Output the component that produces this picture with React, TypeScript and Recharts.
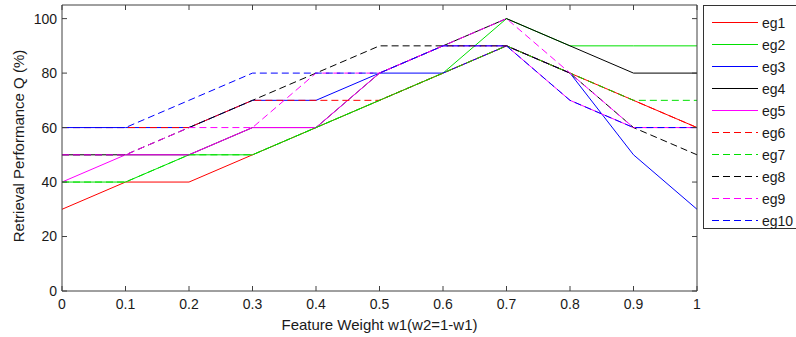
import React from 'react';
import { LineChart, Line, XAxis, YAxis } from 'recharts';

const weights = [0, 0.1, 0.2, 0.3, 0.4, 0.5, 0.6, 0.7, 0.8, 0.9, 1];
const xTickLabels = ['0', '0.1', '0.2', '0.3', '0.4', '0.5', '0.6', '0.7', '0.8', '0.9', '1'];
const yTicks = [0, 20, 40, 60, 80, 100];

const eg1 = [30, 40, 40, 50, 60, 70, 80, 90, 80, 70, 60];
const eg2 = [40, 40, 50, 50, 60, 70, 80, 100, 90, 90, 90];
const eg3 = [60, 60, 60, 70, 70, 80, 80, 90, 80, 50, 30];
const eg4 = [50, 50, 50, 60, 60, 80, 90, 100, 90, 80, 80];
const eg5 = [40, 50, 50, 60, 60, 80, 90, 90, 70, 60, 60];
const eg6 = [60, 60, 60, 70, 70, 70, 80, 90, 80, 70, 60];
const eg7 = [40, 40, 50, 50, 60, 70, 80, 90, 80, 70, 70];
const eg8 = [50, 50, 60, 70, 80, 90, 90, 90, 80, 60, 50];
const eg9 = [50, 50, 60, 60, 80, 80, 90, 100, 80, 60, 60];
const eg10 = [60, 60, 70, 80, 80, 80, 90, 90, 70, 60, 60];

const seriesNames = ['eg1', 'eg2', 'eg3', 'eg4', 'eg5', 'eg6', 'eg7', 'eg8', 'eg9', 'eg10'];
const seriesValues = [eg1, eg2, eg3, eg4, eg5, eg6, eg7, eg8, eg9, eg10];
const seriesColors = ['#ff0000', '#00e000', '#0000ff', '#000000', '#ff00ff', '#ff0000', '#00e000', '#000000', '#ff00ff', '#0000ff'];
const seriesDashed = [false, false, false, false, false, true, true, true, true, true];

const xLabel = 'Feature Weight w1(w2=1-w1)';
const yLabel = 'Retrieval Performance Q (%)';

const data = weights.map((w, i) => {
  const row: Record<string, number> = { w };
  seriesNames.forEach((n, k) => {
    row[n] = seriesValues[k][i];
  });
  return row;
});

const FONT = '"Liberation Sans", Arial, sans-serif';
const AXIS = '#404040';
const TEXT = '#1a1a1a';
const DASH = '7 4';

const EmptyTick = () => <g />;

export default function App() {
  return (
    <div style={{ position: 'absolute', left: 0, top: 0, width: 796, height: 337, background: '#fff' }}>
      <LineChart
        width={796}
        height={337}
        data={data}
        margin={{ top: 4, right: 98, bottom: 0, left: 0 }}
        style={{ fontFamily: FONT }}
      >
        <XAxis
          xAxisId="bottom"
          dataKey="w"
          type="number"
          domain={[0, 1]}
          ticks={weights}
          tickFormatter={(v: number) => xTickLabels[weights.indexOf(v)] ?? String(v)}
          height={46}
          tickSize={-5}
          tickMargin={13}
          axisLine={{ stroke: AXIS }}
          tickLine={{ stroke: AXIS }}
          tick={{ fill: TEXT, fontSize: 14, fontFamily: FONT }}
          interval={0}
          label={{
            content: (p: any) => {
              const vb = p.viewBox;
              const cx = vb.x + vb.width / 2;
              return (
                <text x={cx} y={330} textAnchor="middle" fill={TEXT} fontSize={15} fontFamily={FONT}>
                  {xLabel}
                </text>
              );
            },
          }}
        />
        <XAxis
          xAxisId="top"
          dataKey="w"
          type="number"
          orientation="top"
          domain={[0, 1]}
          ticks={weights}
          height={1}
          tickSize={-5}
          tick={EmptyTick}
          axisLine={{ stroke: AXIS }}
          tickLine={{ stroke: AXIS }}
          interval={0}
        />
        <YAxis
          yAxisId="left"
          type="number"
          domain={[0, 105]}
          ticks={yTicks}
          width={62}
          tickSize={-5}
          tickMargin={10}
          axisLine={{ stroke: AXIS }}
          tickLine={{ stroke: AXIS }}
          tick={{ fill: TEXT, fontSize: 14, fontFamily: FONT }}
          interval={0}
          allowDataOverflow
          label={{
            content: (p: any) => {
              const vb = p.viewBox;
              const cx = 18;
              const cy = vb.y + vb.height / 2 - 2;
              return (
                <text
                  x={cx}
                  y={cy}
                  transform={`rotate(-90 ${cx} ${cy})`}
                  textAnchor="middle"
                  dominantBaseline="central"
                  fill={TEXT}
                  fontSize={15}
                  fontFamily={FONT}
                >
                  {yLabel}
                </text>
              );
            },
          }}
        />
        <YAxis
          yAxisId="right"
          orientation="right"
          type="number"
          domain={[0, 105]}
          ticks={yTicks}
          width={1}
          tickSize={-5}
          tick={EmptyTick}
          axisLine={{ stroke: AXIS }}
          tickLine={{ stroke: AXIS }}
          interval={0}
          allowDataOverflow
        />
        {seriesNames.map((n, k) => (
          <Line
            key={n}
            xAxisId="bottom"
            yAxisId="left"
            type="linear"
            dataKey={n}
            stroke={seriesColors[k]}
            strokeWidth={1}
            strokeDasharray={seriesDashed[k] ? DASH : undefined}
            dot={false}
            activeDot={false}
            isAnimationActive={false}
          />
        ))}
      </LineChart>
      <svg
        width={93}
        height={225}
        style={{ position: 'absolute', left: 703, top: 5, fontFamily: FONT }}
      >
        <rect x={0.5} y={0.5} width={93} height={223} fill="#fff" stroke="#333" strokeWidth={1} />
        {seriesNames.map((n, k) => {
          const y = 17.5 + 22 * k;
          return (
            <g key={n}>
              <line
                x1={9}
                x2={55}
                y1={y}
                y2={y}
                stroke={seriesColors[k]}
                strokeWidth={1}
                strokeDasharray={seriesDashed[k] ? DASH : undefined}
              />
              <text x={59} y={y} dominantBaseline="central" fontSize={14} fill={TEXT}>
                {n}
              </text>
            </g>
          );
        })}
      </svg>
    </div>
  );
}
